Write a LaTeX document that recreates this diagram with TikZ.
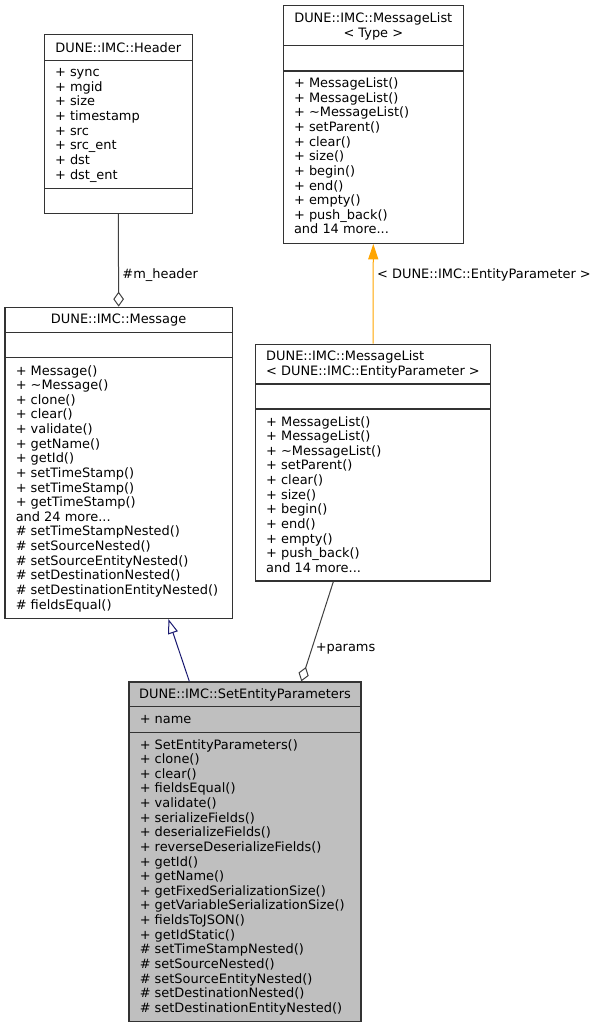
\documentclass[tikz,border=0pt]{standalone}
\usepackage{fontspec}
\setmainfont{DejaVu Sans}
\usetikzlibrary{arrows.meta,fit,calc}

\definecolor{dxorange}{RGB}{255,165,0}
\definecolor{dxblue}{RGB}{25,25,112}
\definecolor{dxgray}{RGB}{191,191,191}

\begin{document}
\begin{tikzpicture}[x=0.75pt,y=-0.75pt,
		cls/.style={draw=black!80,line width=1pt,inner sep=0pt},
		bar/.style={draw=black!80,line width=1pt},
		txt/.style={anchor=north west,inner sep=0pt,align=left,font=\fontsize{9.7}{10.97}\selectfont},
		ttl/.style={anchor=north,inner sep=0pt,align=center,font=\fontsize{9.7}{10.97}\selectfont},
		lbl/.style={anchor=west,inner sep=2.6pt,font=\fontsize{9.7}{10.97}\selectfont},
		agg/.style={draw=black!75,line width=0.75pt,{Diamond[open,length=11.25pt,width=8pt]}-},
		inh/.style={draw=dxblue,line width=0.75pt,{Triangle[open,length=11pt,width=7.5pt]}-},
		tmpl/.style={draw=dxorange,line width=0.75pt,{Triangle[length=11.5pt,width=7.5pt,fill=dxorange]}-}]
	\useasboundingbox (0,0) rectangle (596,1028);

	% boxes
	\node[cls,fit={(44.3,34.3) (192.3,213.3)}] (hdr) {};
	\node[cls,fit={(283.3,5.7) (463.3,243.3)}] (mlt) {};
	\node[cls,fit={(5,307.3) (232.3,618.3)}] (msg) {};
	\node[cls,fit={(255.3,344.3) (490.7,581)}] (mlep) {};
	\node[cls,fill=dxgray,fit={(129,682) (361,1021.3)}] (sep) {};

	% compartments
	\draw[bar] (44.3,60.7) -- (192.3,60.7) (44.3,188.7) -- (192.3,188.7);
	\draw[bar] (283.3,45.7) -- (463.3,45.7) (283.3,71) -- (463.3,71);
	\draw[bar] (5,332.7) -- (232.3,332.7) (5,357.7) -- (232.3,357.7);
	\draw[bar] (255.3,384) -- (490.7,384) (255.3,409) -- (490.7,409);
	\draw[bar] (129,706.7) -- (361,706.7) (129,732.7) -- (361,732.7);

	% texts
	\node[ttl] (hdrname) at (118.3,42.2) {\strut DUNE::IMC::Header};
	\node[txt] (hdrattr) at (54.8,66.2) {\strut + sync\\+ mgid\\+ size\\+ timestamp\\+ src\\+ src\_ent\\+ dst\\+ dst\_ent};

	\node[ttl] (mltname) at (373.3,11.8) {\strut DUNE::IMC::MessageList\\[0.3pt]< Type >};
	\node[txt] (mltops) at (293.8,77.2) {\strut + MessageList()\\+ MessageList()\\+ \textasciitilde MessageList()\\+ setParent()\\+ clear()\\+ size()\\+ begin()\\+ end()\\+ empty()\\+ push\_back()\\and 14 more...};

	\node[ttl] (msgname) at (118.6,312.8) {\strut DUNE::IMC::Message};
	\node[txt] (msgops) at (15.5,364.5) {\strut + Message()\\+ \textasciitilde Message()\\+ clone()\\+ clear()\\+ validate()\\+ getName()\\+ getId()\\+ setTimeStamp()\\+ setTimeStamp()\\+ getTimeStamp()\\and 24 more...\\\# setTimeStampNested()\\\# setSourceNested()\\\# setSourceEntityNested()\\\# setDestinationNested()\\\# setDestinationEntityNested()\\\# fieldsEqual()};

	\node[txt] (mlepname) at (265.9,350.2) {\strut DUNE::IMC::MessageList\\< DUNE::IMC::EntityParameter >};
	\node[txt] (mlepops) at (265.9,415.5) {\strut + MessageList()\\+ MessageList()\\+ \textasciitilde MessageList()\\+ setParent()\\+ clear()\\+ size()\\+ begin()\\+ end()\\+ empty()\\+ push\_back()\\and 14 more...};

	\node[ttl] (sepname) at (245,687.8) {\strut DUNE::IMC::SetEntityParameters};
	\node[txt] (sepattr) at (139.5,712.8) {\strut + name};
	\node[txt] (sepops) at (139.5,738.5) {\strut + SetEntityParameters()\\+ clone()\\+ clear()\\+ fieldsEqual()\\+ validate()\\+ serializeFields()\\+ deserializeFields()\\+ reverseDeserializeFields()\\+ getId()\\+ getName()\\+ getFixedSerializationSize()\\+ getVariableSerializationSize()\\+ fieldsToJSON()\\+ getIdStatic()\\\# setTimeStampNested()\\\# setSourceNested()\\\# setSourceEntityNested()\\\# setDestinationNested()\\\# setDestinationEntityNested()};

	% relations
	\draw[agg] (msg.north) -- node[lbl,pos=0.344] {\#m\_header} (hdr.south);
	\draw[tmpl] (mlt.south) -- node[lbl,pos=0.314] {< DUNE::IMC::EntityParameter >} (mlep.north);
	\draw[inh] ($(msg.south west)+(164,0)$) -- ($(sep.north west)+(61,0)$);
	\draw[agg] ($(sep.north west)+(173,0)$) -- node[lbl,pos=0.327] {+params} ($(mlep.south west)+(78.7,0)$);
\end{tikzpicture}
\end{document}
